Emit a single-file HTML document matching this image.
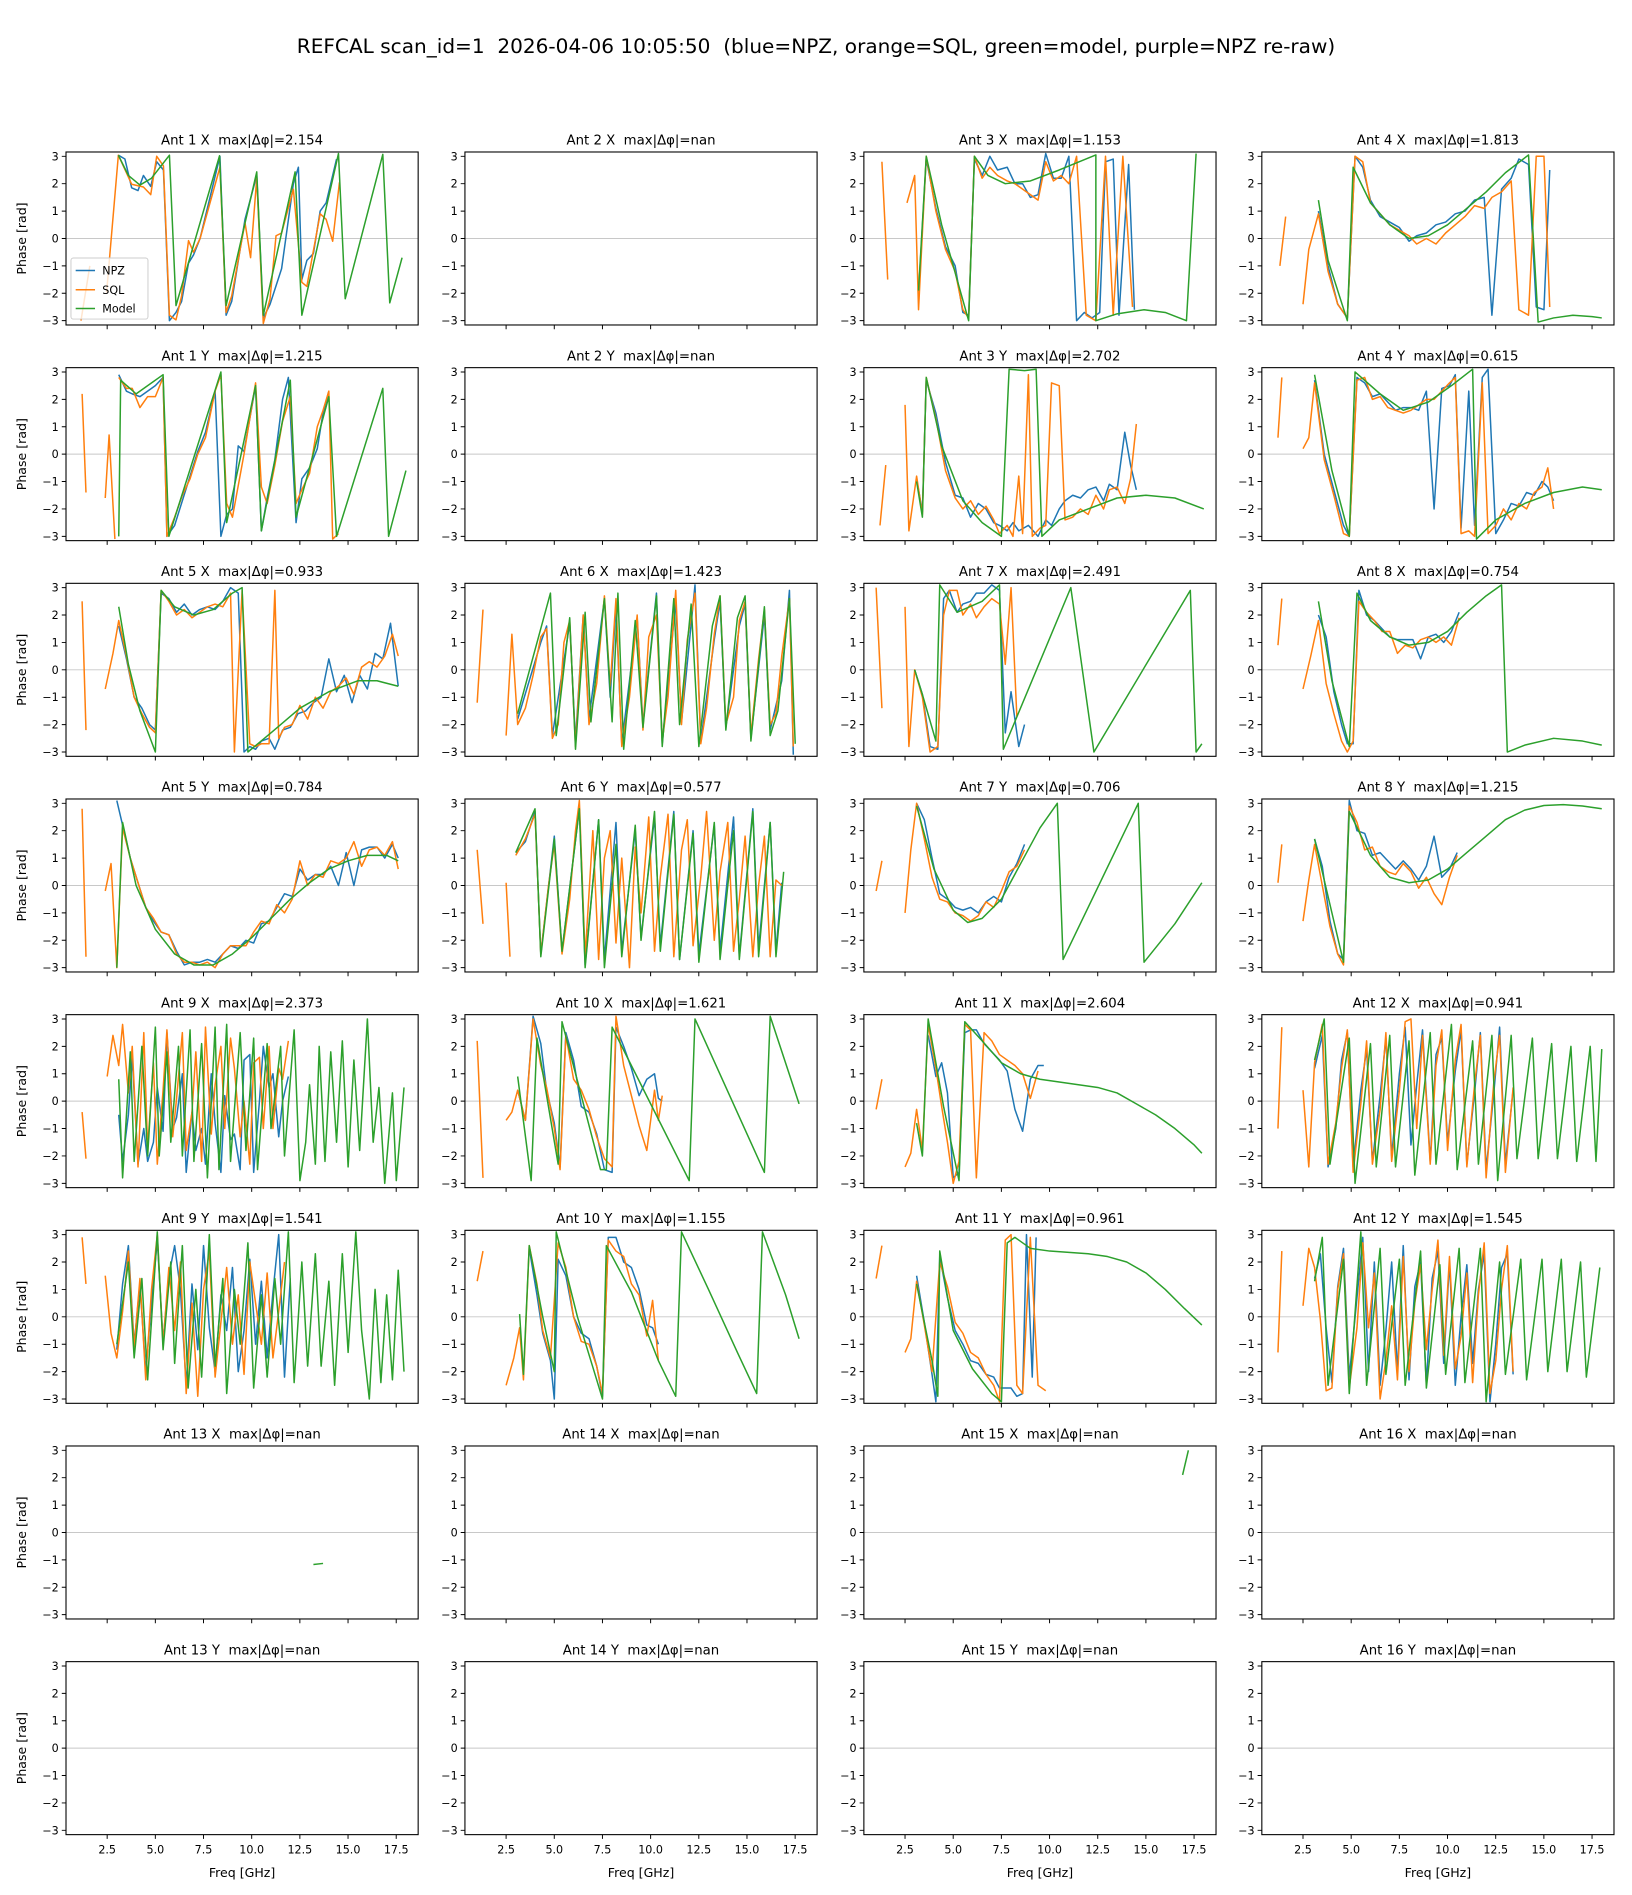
<!DOCTYPE html>
<html><head><meta charset="utf-8"><style>
html,body{margin:0;padding:0;background:#fff;}
svg{display:block;}
text{font-family:"DejaVu Sans","Liberation Sans",sans-serif;fill:#000;white-space:pre;}
.t{font-size:11px;text-anchor:middle;}
.y text{font-size:9.2px;text-anchor:end;}
.x text{font-size:9.2px;text-anchor:middle;}
.lab{font-size:10.4px;text-anchor:middle;}
.d{vector-effect:non-scaling-stroke;fill:none;stroke-width:1.5;stroke-linejoin:round;}
.b{stroke:#1f77b4;}.o{stroke:#ff7f0e;}.g{stroke:#2ca02c;}
</style></head><body>
<svg width="1632" height="1895" viewBox="0 0 1350 1567.5" xmlns="http://www.w3.org/2000/svg">
<defs>
<g id="ax">
<line x1="0" y1="71.55" x2="291.3" y2="71.55" stroke="#c8c8c8" stroke-width="0.8"/>
<path d="M-3.5 3.57H0M-3.5 26.23H0M-3.5 48.89H0M-3.5 71.55H0M-3.5 94.21H0M-3.5 116.87H0M-3.5 139.53H0M34.05 143.1V146.6M73.9 143.1V146.6M113.75 143.1V146.6M153.6 143.1V146.6M193.45 143.1V146.6M233.3 143.1V146.6M273.15 143.1V146.6" stroke="#000" stroke-width="0.8" fill="none"/>
</g>
<g id="fr"><rect x="0" y="0" width="291.3" height="143.1" fill="none" stroke="#000" stroke-width="0.9"/></g>
</defs>
<text x="675" y="44" style="font-size:16.5px;text-anchor:middle" textLength="859" lengthAdjust="spacingAndGlyphs">REFCAL scan_id=1  2026-04-06 10:05:50  (blue=NPZ, orange=SQL, green=model, purple=NPZ re-raw)</text>

<!-- ROW 0 -->
<g transform="translate(54.6,125.7)">
<use href="#ax"/>
<svg width="291.3" height="143.1" viewBox="0.364 -3.157 18.27 6.314" preserveAspectRatio="none"><g transform="scale(1,-1)">
<polyline class="d b" points="3.08,3.04 3.42,2.9 3.77,1.85 4.1,1.75 4.38,2.3 4.76,1.9 5.07,2.8 5.42,2.5 5.73,-3.0 6.07,-2.7 6.36,-2.3 6.72,-0.9 6.98,-0.6 7.32,0 8.35,3.0 8.67,-2.8 8.96,-2.3 9.65,0.7 10.26,2.3 10.6,-2.9 10.95,-2.4 11.55,-1.1 12.16,2.0 12.42,2.6 12.6,-1.5 12.86,-0.8 13.2,-0.55 13.55,1.0 13.86,1.3 14.4,2.9"/>
<polyline class="d o" points="1.14,-3.0 1.6,-1.0"/>
<polyline class="d o" points="2.47,-1.97 3.08,3.04 3.77,1.98 4.38,1.88 4.76,1.6 5.07,3.0 5.42,2.65 5.73,-2.8 6.07,-2.97 6.36,-2.1 6.72,-0.08 6.98,-0.5 7.32,0 8.35,2.6 8.67,-2.7 8.96,-2.1 9.65,0.58 9.94,-0.7 10.26,2.2 10.6,-3.1 10.95,-2.2 11.26,0.1 11.55,0.2 12.16,1.8 12.6,-1.6 12.86,-1.75 13.55,0.9 13.86,0.7 14.2,-0.1 14.55,2.05"/>
<polyline class="d g" points="3.08,3.04 3.6,2.3 4.2,1.95 4.8,2.2 5.73,3.04 6.07,-2.45 8.33,3.02 8.67,-2.45 10.26,2.43 10.6,-2.8 12.25,2.43 12.6,-2.8 14.5,3.1 14.85,-2.2 16.8,3.07 17.16,-2.35 17.8,-0.7"/>
</g></svg>
<use href="#fr"/>
<rect x="4.1" y="87.7" width="63.7" height="50.5" rx="2" fill="#fff" fill-opacity="0.8" stroke="#ccc" stroke-width="0.8"/>
<line x1="8" y1="98" x2="24" y2="98" stroke="#1f77b4" stroke-width="1.25"/>
<line x1="8" y1="114" x2="24" y2="114" stroke="#ff7f0e" stroke-width="1.25"/>
<line x1="8" y1="129.5" x2="24" y2="129.5" stroke="#2ca02c" stroke-width="1.25"/>
<text x="30" y="101.3" style="font-size:9.2px">NPZ</text>
<text x="30" y="117.3" style="font-size:9.2px">SQL</text>
<text x="30" y="132.8" style="font-size:9.2px">Model</text>
<text class="t" x="145.65" y="-6">Ant 1 X  max|Δφ|=2.154</text>
<text class="lab" transform="translate(-33,71.55) rotate(-90)">Phase [rad]</text>
<g class="y"><text x="-6" y="6.9">3</text><text x="-6" y="29.5">2</text><text x="-6" y="52.2">1</text><text x="-6" y="74.9">0</text><text x="-6" y="97.5">−1</text><text x="-6" y="120.2">−2</text><text x="-6" y="142.8">−3</text></g>
</g>

<g transform="translate(384.6,125.7)">
<use href="#ax"/><use href="#fr"/>
<text class="t" x="145.65" y="-6">Ant 2 X  max|Δφ|=nan</text>
<g class="y"><text x="-6" y="6.9">3</text><text x="-6" y="29.5">2</text><text x="-6" y="52.2">1</text><text x="-6" y="74.9">0</text><text x="-6" y="97.5">−1</text><text x="-6" y="120.2">−2</text><text x="-6" y="142.8">−3</text></g>
</g>

<g transform="translate(714.6,125.7)">
<use href="#ax"/>
<svg width="291.3" height="143.1" viewBox="0.364 -3.157 18.27 6.314" preserveAspectRatio="none"><g transform="scale(1,-1)">
<polyline class="d b" points="3.2,-2.0 3.6,2.9 4.1,1.1 4.6,-0.3 5.1,-1.0 5.5,-2.7 5.8,-2.8 6.1,2.9 6.5,2.3 6.9,3.0 7.3,2.5 7.8,2.6 8.2,2.0 8.6,2.0 9.0,1.5 9.4,1.6 9.8,3.1 10.2,2.2 10.6,2.2 11.0,3.0 11.4,-3.0 11.8,-2.7 12.2,-2.9 12.6,-2.7 12.9,2.8 13.3,2.9 13.6,-2.8 14.1,2.7 14.4,-2.6"/>
<polyline class="d o" points="1.3,2.8 1.6,-1.5"/>
<polyline class="d o" points="2.6,1.3 3.0,2.3 3.2,-2.6 3.6,3.0 4.1,1.0 4.6,-0.4 5.1,-1.2 5.5,-2.6 5.8,-2.9 6.1,3.0 6.5,2.2 6.9,2.6 7.3,2.3 7.8,2.1 8.2,2.0 8.6,1.8 9.0,1.6 9.4,1.4 9.8,2.8 10.2,2.1 10.6,2.3 11.0,2.0 11.4,3.0 11.9,-2.8 12.4,-3.0 12.9,3.0 13.3,-2.8 13.8,3.0 14.3,-2.5"/>
<polyline class="d g" points="3.2,-1.9 3.6,3.0 4.4,0.5 5.8,-3.0 6.1,3.0 6.8,2.3 7.7,2.0 9.0,2.1 10.5,2.5 12.4,3.05 12.4,-3.0 13.5,-2.75 14.9,-2.6 16.0,-2.7 17.1,-3.0 17.6,3.1"/>
</g></svg>
<use href="#fr"/>
<text class="t" x="145.65" y="-6">Ant 3 X  max|Δφ|=1.153</text>
<g class="y"><text x="-6" y="6.9">3</text><text x="-6" y="29.5">2</text><text x="-6" y="52.2">1</text><text x="-6" y="74.9">0</text><text x="-6" y="97.5">−1</text><text x="-6" y="120.2">−2</text><text x="-6" y="142.8">−3</text></g>
</g>

<g transform="translate(1043.8,125.7)">
<use href="#ax"/>
<svg width="291.3" height="143.1" viewBox="0.364 -3.157 18.27 6.314" preserveAspectRatio="none"><g transform="scale(1,-1)">
<polyline class="d b" points="3.3,1.0 3.8,-1.0 4.3,-2.4 4.8,-2.9 5.2,3.0 5.6,2.6 6.0,1.4 6.5,0.8 7.0,0.6 7.5,0.4 8.0,-0.1 8.4,0.1 8.9,0.2 9.4,0.5 9.9,0.6 10.4,0.9 10.9,1.0 11.4,1.4 11.9,1.5 12.3,-2.8 12.8,1.8 13.3,2.2 13.7,2.9 14.2,2.7 14.6,-2.5 15.0,-2.6 15.3,2.5"/>
<polyline class="d o" points="1.3,-1.0 1.6,0.8"/>
<polyline class="d o" points="2.5,-2.4 2.8,-0.4 3.3,0.9 3.8,-1.2 4.3,-2.4 4.8,-2.9 5.2,3.0 5.6,2.8 6.0,1.3 6.5,0.9 7.0,0.5 7.5,0.3 8.0,0.1 8.4,-0.2 8.9,0.0 9.4,-0.2 9.9,0.2 10.4,0.5 10.9,0.8 11.4,1.2 11.9,1.1 12.3,1.5 12.8,1.7 13.3,2.1 13.7,-2.6 14.2,-2.8 14.6,3.0 15.0,3.0 15.3,-2.5"/>
<polyline class="d g" points="3.3,1.4 3.8,-0.8 4.8,-3.0 5.1,2.6 6.0,1.3 7.0,0.5 8.0,0.0 9.0,0.1 10.0,0.5 11.0,1.1 12.0,1.7 13.0,2.4 14.2,3.05 14.7,-3.05 15.5,-2.9 16.5,-2.8 17.5,-2.85 18.0,-2.9"/>
</g></svg>
<use href="#fr"/>
<text class="t" x="145.65" y="-6">Ant 4 X  max|Δφ|=1.813</text>
<g class="y"><text x="-6" y="6.9">3</text><text x="-6" y="29.5">2</text><text x="-6" y="52.2">1</text><text x="-6" y="74.9">0</text><text x="-6" y="97.5">−1</text><text x="-6" y="120.2">−2</text><text x="-6" y="142.8">−3</text></g>
</g>

<!-- ROW 1 -->
<g transform="translate(54.6,304.1)">
<use href="#ax"/>
<svg width="291.3" height="143.1" viewBox="0.364 -3.157 18.27 6.314" preserveAspectRatio="none"><g transform="scale(1,-1)">
<polyline class="d b" points="3.1,2.9 3.5,2.3 3.8,2.2 4.2,2.1 4.6,2.3 5.0,2.5 5.4,2.8 5.6,-3.0 6.0,-2.6 6.4,-1.7 6.8,-0.8 7.2,0.1 7.6,0.8 8.1,2.3 8.4,-3.0 8.7,-2.2 9.0,-2.0 9.3,0.3 9.6,0.1 10.2,2.5 10.5,-2.8 10.8,-1.6 11.2,-0.2 11.6,2.0 11.9,2.8 12.3,-2.5 12.6,-0.9 13.0,-0.5 13.4,0.2 13.7,1.5 14.0,2.3"/>
<polyline class="d o" points="1.2,2.2 1.4,-1.4"/>
<polyline class="d o" points="2.4,-1.6 2.6,0.7 2.9,-3.1"/>
<polyline class="d o" points="3.1,2.8 3.5,2.4 3.8,2.4 4.2,1.7 4.6,2.1 5.0,2.1 5.4,2.8 5.6,-3.0 6.0,-2.3 6.4,-1.5 6.8,-0.9 7.2,0.0 7.6,0.6 8.1,2.3 8.4,2.9 8.7,-1.8 9.0,-2.3 9.6,0.0 10.2,2.6 10.5,-1.2 10.8,-1.8 11.2,-0.4 11.6,1.2 12.0,2.1 12.3,-1.8 12.6,-1.3 13.0,-0.7 13.4,1.0 13.7,1.6 14.0,2.3 14.2,-3.1 14.5,-2.9"/>
<polyline class="d g" points="3.1,-3.0 3.2,2.7 4.0,2.2 5.4,2.9 5.7,-3.0 8.4,3.0 8.7,-2.5 10.2,2.5 10.5,-2.8 12.0,2.7 12.3,-2.3 14.0,2.1 14.4,-3.0 16.8,2.4 17.1,-3.0 18.0,-0.6"/>
</g></svg>
<use href="#fr"/>
<text class="t" x="145.65" y="-6">Ant 1 Y  max|Δφ|=1.215</text>
<text class="lab" transform="translate(-33,71.55) rotate(-90)">Phase [rad]</text>
<g class="y"><text x="-6" y="6.9">3</text><text x="-6" y="29.5">2</text><text x="-6" y="52.2">1</text><text x="-6" y="74.9">0</text><text x="-6" y="97.5">−1</text><text x="-6" y="120.2">−2</text><text x="-6" y="142.8">−3</text></g>
</g>

<g transform="translate(384.6,304.1)">
<use href="#ax"/><use href="#fr"/>
<text class="t" x="145.65" y="-6">Ant 2 Y  max|Δφ|=nan</text>
<g class="y"><text x="-6" y="6.9">3</text><text x="-6" y="29.5">2</text><text x="-6" y="52.2">1</text><text x="-6" y="74.9">0</text><text x="-6" y="97.5">−1</text><text x="-6" y="120.2">−2</text><text x="-6" y="142.8">−3</text></g>
</g>

<g transform="translate(714.6,304.1)">
<use href="#ax"/>
<svg width="291.3" height="143.1" viewBox="0.364 -3.157 18.27 6.314" preserveAspectRatio="none"><g transform="scale(1,-1)">
<polyline class="d b" points="3.1,-0.9 3.4,-2.1 3.6,2.7 4.1,1.5 4.6,-0.3 5.1,-1.5 5.5,-1.6 5.9,-2.3 6.3,-1.8 6.7,-2.0 7.1,-2.5 7.4,-2.6 7.8,-2.8 8.1,-2.5 8.4,-2.8 8.9,-2.6 9.4,-3.0 9.8,-2.4 10.1,-2.6 10.5,-2.0 10.8,-1.7 11.2,-1.5 11.6,-1.6 12.0,-1.3 12.4,-1.2 12.8,-1.7 13.1,-1.1 13.5,-1.3 13.9,0.8 14.2,-0.4 14.5,-1.3"/>
<polyline class="d o" points="1.2,-2.6 1.5,-0.4"/>
<polyline class="d o" points="2.5,1.8 2.7,-2.8 3.1,-0.8 3.4,-2.2 3.6,2.8 4.1,1.3 4.6,-0.6 5.1,-1.6 5.5,-2.0 5.9,-1.7 6.3,-2.2 6.7,-1.9 7.1,-2.4 7.4,-2.9 7.8,-2.6 8.1,-3.0 8.4,-0.8 8.6,-2.9 8.9,2.9 9.1,-3.0 9.5,-2.7 9.8,-2.6 10.1,2.6 10.5,2.5 10.8,-2.4 11.2,-2.3 11.6,-2.0 12.0,-2.2 12.4,-1.5 12.8,-2.0 13.1,-1.3 13.5,-1.2 13.9,-1.8 14.2,-0.9 14.5,1.1"/>
<polyline class="d g" points="3.1,-1.0 3.4,-2.3 3.6,2.8 4.4,0.3 5.5,-1.7 6.5,-2.5 7.5,-3.0 7.9,3.1 8.7,3.05 9.3,3.1 9.6,-3.0 10.5,-2.4 12.0,-2.0 13.5,-1.6 15.0,-1.5 16.5,-1.6 18.0,-2.0"/>
</g></svg>
<use href="#fr"/>
<text class="t" x="145.65" y="-6">Ant 3 Y  max|Δφ|=2.702</text>
<g class="y"><text x="-6" y="6.9">3</text><text x="-6" y="29.5">2</text><text x="-6" y="52.2">1</text><text x="-6" y="74.9">0</text><text x="-6" y="97.5">−1</text><text x="-6" y="120.2">−2</text><text x="-6" y="142.8">−3</text></g>
</g>

<g transform="translate(1043.8,304.1)">
<use href="#ax"/>
<svg width="291.3" height="143.1" viewBox="0.364 -3.157 18.27 6.314" preserveAspectRatio="none"><g transform="scale(1,-1)">
<polyline class="d b" points="3.1,2.7 3.6,0.0 4.1,-1.3 4.6,-2.6 4.9,-3.0 5.3,2.8 5.7,2.6 6.1,2.1 6.5,2.2 6.9,1.9 7.3,1.6 7.7,1.7 8.1,1.7 8.5,1.6 8.9,2.3 9.3,-2.0 9.7,2.4 10.1,2.5 10.4,2.9 10.7,-2.7 11.1,2.3 11.4,-2.6 11.8,2.8 12.1,3.1 12.5,-2.9 12.9,-2.4 13.3,-1.8 13.7,-1.9 14.1,-1.4 14.5,-1.5 14.9,-1.0 15.2,-1.2 15.5,-1.7"/>
<polyline class="d o" points="1.2,0.6 1.4,2.8"/>
<polyline class="d o" points="2.5,0.2 2.8,0.6 3.1,2.6 3.6,-0.2 4.1,-1.5 4.6,-2.9 4.9,-3.0 5.3,2.7 5.7,2.8 6.1,2.0 6.5,2.1 6.9,1.7 7.3,1.6 7.7,1.5 8.1,1.6 8.5,1.8 8.9,2.0 9.3,2.0 9.7,2.3 10.1,2.6 10.4,2.8 10.7,-2.9 11.1,-2.8 11.4,-3.0 11.8,2.6 12.1,-2.9 12.5,-2.6 12.9,-2.0 13.3,-2.4 13.7,-1.8 14.1,-2.0 14.5,-1.4 14.9,-1.2 15.2,-0.5 15.5,-2.0"/>
<polyline class="d g" points="3.1,2.9 4.0,-0.6 4.9,-3.0 5.2,3.0 6.5,2.2 7.7,1.6 9.0,1.9 10.2,2.5 11.3,3.1 11.5,-3.1 12.5,-2.4 14.0,-1.8 15.5,-1.4 17.0,-1.2 18.0,-1.3"/>
</g></svg>
<use href="#fr"/>
<text class="t" x="145.65" y="-6">Ant 4 Y  max|Δφ|=0.615</text>
<g class="y"><text x="-6" y="6.9">3</text><text x="-6" y="29.5">2</text><text x="-6" y="52.2">1</text><text x="-6" y="74.9">0</text><text x="-6" y="97.5">−1</text><text x="-6" y="120.2">−2</text><text x="-6" y="142.8">−3</text></g>
</g>

<!-- ROW 2 -->
<g transform="translate(54.6,482.5)">
<use href="#ax"/>
<svg width="291.3" height="143.1" viewBox="0.364 -3.157 18.27 6.314" preserveAspectRatio="none"><g transform="scale(1,-1)">
<polyline class="d b" points="3.1,1.6 3.5,0.4 3.9,-1.0 4.3,-1.4 4.7,-2.0 5.0,-2.2 5.3,2.8 5.7,2.6 6.1,2.1 6.5,2.4 6.9,2.0 7.3,2.2 7.7,2.3 8.1,2.2 8.5,2.5 8.9,3.0 9.3,2.8 9.6,-3.0 9.9,-2.8 10.2,-2.9 10.5,-2.6 10.9,-2.5 11.2,-2.9 11.6,-2.2 12.0,-2.1 12.4,-1.6 12.8,-1.5 13.2,-1.2 13.6,-1.0 14.0,0.4 14.4,-0.8 14.8,-0.2 15.2,-1.2 15.6,-0.2 16.0,-0.7 16.4,0.6 16.8,0.4 17.2,1.7 17.6,-0.6"/>
<polyline class="d o" points="1.2,2.5 1.4,-2.2"/>
<polyline class="d o" points="2.4,-0.7 2.8,0.6 3.1,1.8 3.5,0.5 3.9,-1.0 4.3,-1.6 4.7,-2.1 5.0,-2.3 5.3,2.9 5.7,2.5 6.1,2.0 6.5,2.2 6.9,1.9 7.3,2.1 7.7,2.3 8.1,2.4 8.5,2.3 8.9,2.8 9.1,-3.0 9.5,2.9 9.9,-2.7 10.2,-2.8 10.5,-2.7 10.9,-2.7 11.2,2.9 11.4,-2.5 11.7,-2.1 12.1,-2.0 12.5,-1.3 12.9,-1.8 13.3,-1.0 13.7,-1.4 14.1,-0.8 14.5,-0.6 14.9,-0.3 15.3,-0.9 15.7,0.1 16.1,0.3 16.5,0.1 16.9,0.5 17.3,1.3 17.6,0.5"/>
<polyline class="d g" points="3.1,2.3 3.6,0.2 4.2,-1.5 5.0,-3.0 5.3,2.9 6.0,2.3 7.0,2.0 8.0,2.2 9.0,2.8 9.5,3.0 9.8,-3.0 11.0,-2.3 12.5,-1.4 14.0,-0.8 15.5,-0.4 16.5,-0.4 17.6,-0.6"/>
</g></svg>
<use href="#fr"/>
<text class="t" x="145.65" y="-6">Ant 5 X  max|Δφ|=0.933</text>
<text class="lab" transform="translate(-33,71.55) rotate(-90)">Phase [rad]</text>
<g class="y"><text x="-6" y="6.9">3</text><text x="-6" y="29.5">2</text><text x="-6" y="52.2">1</text><text x="-6" y="74.9">0</text><text x="-6" y="97.5">−1</text><text x="-6" y="120.2">−2</text><text x="-6" y="142.8">−3</text></g>
</g>

<g transform="translate(384.6,482.5)">
<use href="#ax"/>
<svg width="291.3" height="143.1" viewBox="0.364 -3.157 18.27 6.314" preserveAspectRatio="none"><g transform="scale(1,-1)">
<polyline class="d b" points="3.1,-1.8 4.3,1.0 4.6,1.6 4.9,-2.4 5.8,1.7 6.1,-2.6 6.5,2.0 6.8,-1.8 7.6,2.6 7.9,-1.0 8.2,2.3 8.5,-2.7 9.3,1.9 9.6,-2.0 10.3,2.8 10.6,-2.7 11.3,2.5 11.6,-1.9 12.3,3.1 12.6,-2.6 13.3,1.1 13.6,2.5 13.9,-2.1 14.6,1.6 14.9,2.4 15.2,-2.5 15.9,2.0 16.2,-2.2 16.8,-0.4 17.2,2.9 17.4,-3.1"/>
<polyline class="d o" points="1.0,-1.2 1.3,2.2"/>
<polyline class="d o" points="2.5,-2.4 2.8,1.3 3.1,-2.0 3.5,-1.4 3.9,-0.2 4.3,1.2 4.6,1.5 4.9,-2.5 5.2,-2.0 5.5,1.0 5.8,1.8 6.1,-2.8 6.5,2.0 6.8,-2.0 7.2,-0.5 7.6,2.7 7.9,-0.6 8.2,2.6 8.5,-2.8 8.9,-1.0 9.3,2.0 9.6,-2.2 9.9,1.2 10.3,2.0 10.6,-2.6 10.9,-1.0 11.3,2.9 11.6,-2.0 11.9,1.1 12.3,2.8 12.6,-2.7 12.9,-1.4 13.3,1.3 13.6,2.7 13.9,-2.0 14.3,-1.0 14.6,1.8 14.9,2.5 15.2,-2.4 15.6,0.4 15.9,2.2 16.2,-2.0 16.5,-1.6 16.8,0.5 17.2,2.6 17.4,-2.8"/>
<polyline class="d g" points="3.1,-1.6 4.8,2.8 5.1,-2.4 5.8,1.9 6.1,-2.9 6.6,2.1 6.9,-1.9 7.6,2.6 8.0,-1.9 8.3,2.8 8.6,-2.9 9.2,1.8 9.6,-2.1 10.3,2.7 10.6,-2.8 11.2,2.6 11.5,-2.0 12.1,2.4 12.5,-2.8 13.2,1.6 13.6,2.7 13.9,-2.2 14.5,1.9 14.9,2.7 15.2,-2.6 15.9,2.3 16.2,-2.4 16.6,-1.5 17.2,2.6 17.5,-2.7"/>
</g></svg>
<use href="#fr"/>
<text class="t" x="145.65" y="-6">Ant 6 X  max|Δφ|=1.423</text>
<g class="y"><text x="-6" y="6.9">3</text><text x="-6" y="29.5">2</text><text x="-6" y="52.2">1</text><text x="-6" y="74.9">0</text><text x="-6" y="97.5">−1</text><text x="-6" y="120.2">−2</text><text x="-6" y="142.8">−3</text></g>
</g>

<g transform="translate(714.6,482.5)">
<use href="#ax"/>
<svg width="291.3" height="143.1" viewBox="0.364 -3.157 18.27 6.314" preserveAspectRatio="none"><g transform="scale(1,-1)">
<polyline class="d b" points="3.0,0.0 3.4,-0.9 3.8,-2.8 4.2,-2.9 4.5,2.6 4.8,2.9 5.2,2.1 5.5,2.4 5.9,2.5 6.2,2.8 6.6,2.8 7.0,3.1 7.4,2.9 7.7,-2.3 8.0,-0.8 8.4,-2.8 8.7,-2.0"/>
<polyline class="d o" points="1.0,3.0 1.3,-1.4"/>
<polyline class="d o" points="2.5,2.3 2.7,-2.8 3.0,0.0 3.4,-1.0 3.8,-3.0 4.2,-2.8 4.5,2.0 4.8,2.9 5.2,2.9 5.5,2.0 5.9,2.4 6.2,1.9 6.6,2.3 7.0,2.6 7.4,2.4 7.7,0.2 8.0,3.0 8.3,-1.7"/>
<polyline class="d g" points="3.0,0.0 3.4,-0.9 4.1,-2.6 4.3,3.1 5.2,2.1 6.5,2.5 7.4,3.1 7.6,-2.9 11.1,3.0 12.3,-3.0 17.3,2.9 17.6,-3.0 17.9,-2.7"/>
</g></svg>
<use href="#fr"/>
<text class="t" x="145.65" y="-6">Ant 7 X  max|Δφ|=2.491</text>
<g class="y"><text x="-6" y="6.9">3</text><text x="-6" y="29.5">2</text><text x="-6" y="52.2">1</text><text x="-6" y="74.9">0</text><text x="-6" y="97.5">−1</text><text x="-6" y="120.2">−2</text><text x="-6" y="142.8">−3</text></g>
</g>

<g transform="translate(1043.8,482.5)">
<use href="#ax"/>
<svg width="291.3" height="143.1" viewBox="0.364 -3.157 18.27 6.314" preserveAspectRatio="none"><g transform="scale(1,-1)">
<polyline class="d b" points="3.3,2.0 3.7,1.2 4.1,-0.8 4.5,-2.0 4.8,-2.7 5.1,-2.7 5.4,2.9 5.8,2.0 6.2,1.8 6.6,1.5 7.0,1.2 7.4,1.1 7.8,1.1 8.2,1.1 8.6,0.4 9.0,1.2 9.4,1.3 9.8,1.0 10.2,1.4 10.6,2.1"/>
<polyline class="d o" points="1.2,0.9 1.4,2.6"/>
<polyline class="d o" points="2.5,-0.7 2.9,0.5 3.3,1.8 3.7,-0.5 4.1,-1.6 4.5,-2.6 4.8,-3.0 5.1,-2.6 5.4,2.5 5.8,2.1 6.2,1.8 6.6,1.4 7.0,1.4 7.4,0.6 7.8,0.9 8.2,0.8 8.6,1.1 9.0,1.2 9.4,1.0 9.8,1.2 10.2,0.9 10.6,1.9"/>
<polyline class="d g" points="3.3,2.5 4.0,-0.4 4.9,-2.8 5.3,2.8 6.0,1.8 7.0,1.2 8.0,0.9 9.0,1.0 10.0,1.4 11.0,2.1 12.0,2.7 12.8,3.1 13.1,-3.0 14.0,-2.75 15.5,-2.5 17.0,-2.6 18.0,-2.75"/>
</g></svg>
<use href="#fr"/>
<text class="t" x="145.65" y="-6">Ant 8 X  max|Δφ|=0.754</text>
<g class="y"><text x="-6" y="6.9">3</text><text x="-6" y="29.5">2</text><text x="-6" y="52.2">1</text><text x="-6" y="74.9">0</text><text x="-6" y="97.5">−1</text><text x="-6" y="120.2">−2</text><text x="-6" y="142.8">−3</text></g>
</g>

<!-- ROW 3 -->
<g transform="translate(54.6,660.9)">
<use href="#ax"/>
<svg width="291.3" height="143.1" viewBox="0.364 -3.157 18.27 6.314" preserveAspectRatio="none"><g transform="scale(1,-1)">
<polyline class="d b" points="3.0,3.1 3.3,2.2 3.7,1.0 4.1,0.1 4.5,-0.8 4.9,-1.3 5.3,-1.7 5.7,-1.8 6.1,-2.4 6.5,-2.9 6.9,-2.8 7.3,-2.8 7.7,-2.7 8.1,-2.8 8.5,-2.5 8.9,-2.2 9.3,-2.3 9.7,-2.0 10.1,-2.1 10.5,-1.4 10.9,-1.3 11.3,-0.8 11.7,-0.3 12.1,-0.4 12.5,0.6 12.9,0.2 13.3,0.4 13.7,0.4 14.1,0.7 14.5,0.0 14.9,1.2 15.3,0.0 15.7,1.3 16.1,1.4 16.5,1.4 16.9,1.0 17.3,1.5 17.6,1.0"/>
<polyline class="d o" points="1.2,2.8 1.4,-2.6"/>
<polyline class="d o" points="2.4,-0.2 2.7,0.8 3.0,-3.0 3.3,2.1 3.7,1.0 4.1,0.1 4.5,-0.8 4.9,-1.2 5.3,-1.7 5.7,-1.8 6.1,-2.5 6.5,-2.8 6.9,-2.8 7.3,-2.9 7.7,-2.8 8.1,-3.0 8.5,-2.5 8.9,-2.2 9.3,-2.2 9.7,-2.2 10.1,-1.7 10.5,-1.3 10.9,-1.4 11.3,-0.7 11.7,-1.0 12.1,-0.5 12.5,0.9 12.9,0.0 13.3,0.4 13.7,0.3 14.1,0.9 14.5,0.8 14.9,1.0 15.3,1.6 15.7,0.7 16.1,1.3 16.5,1.4 16.9,1.1 17.3,1.6 17.6,0.6"/>
<polyline class="d g" points="3.0,-3.0 3.3,2.3 4.0,0.0 5.0,-1.6 6.0,-2.5 7.0,-2.9 8.0,-2.9 9.0,-2.5 10.0,-1.9 11.0,-1.2 12.0,-0.5 13.0,0.1 14.0,0.6 15.0,0.9 16.0,1.1 17.0,1.1 17.6,0.9"/>
</g></svg>
<use href="#fr"/>
<text class="t" x="145.65" y="-6">Ant 5 Y  max|Δφ|=0.784</text>
<text class="lab" transform="translate(-33,71.55) rotate(-90)">Phase [rad]</text>
<g class="y"><text x="-6" y="6.9">3</text><text x="-6" y="29.5">2</text><text x="-6" y="52.2">1</text><text x="-6" y="74.9">0</text><text x="-6" y="97.5">−1</text><text x="-6" y="120.2">−2</text><text x="-6" y="142.8">−3</text></g>
</g>

<g transform="translate(384.6,660.9)">
<use href="#ax"/>
<svg width="291.3" height="143.1" viewBox="0.364 -3.157 18.27 6.314" preserveAspectRatio="none"><g transform="scale(1,-1)">
<polyline class="d b" points="3.0,1.2 3.5,1.6 4.0,2.7 4.3,-2.5 5.0,1.8 5.4,-2.4 6.3,2.8 6.6,-2.9 7.3,2.4 7.6,-2.7 8.2,2.3 8.5,-2.4 9.2,2.0 9.5,-1.9 10.2,2.5 10.5,-2.2 11.2,2.7 11.5,-2.7 12.2,2.0 12.5,-2.5 13.3,2.2 13.6,-2.4 14.3,2.5 14.6,-2.6 15.3,2.8 15.6,-2.3 16.2,2.3 16.5,-2.4 16.8,0.1"/>
<polyline class="d o" points="1.0,1.3 1.3,-1.4"/>
<polyline class="d o" points="2.5,0.1 2.7,-2.6"/>
<polyline class="d o" points="3.0,1.1 3.5,1.7 4.0,2.6 4.3,-2.5 4.7,0.0 5.0,1.5 5.4,-2.5 5.8,-0.5 6.1,2.0 6.3,3.1 6.6,-2.6 7.0,2.0 7.3,-2.7 7.6,1.0 7.9,2.0 8.2,-2.1 8.5,1.0 8.9,-3.0 9.2,1.4 9.5,-1.0 9.9,2.5 10.2,-2.4 10.5,0.3 10.9,2.6 11.2,-2.6 11.6,1.3 11.9,2.4 12.2,-2.2 12.6,0.3 12.9,2.7 13.3,-2.0 13.6,0.5 14.0,2.3 14.3,-2.4 14.6,-0.5 14.9,1.8 15.3,-2.6 15.6,0.0 15.9,1.8 16.2,-2.6 16.5,0.2 16.8,0.0"/>
<polyline class="d g" points="3.0,1.2 4.0,2.8 4.3,-2.6 5.0,1.7 5.4,-2.4 6.3,2.8 6.6,-3.0 7.3,2.4 7.6,-3.0 8.2,1.5 8.5,-2.6 9.2,2.2 9.5,-2.0 10.2,2.7 10.5,-2.4 11.2,2.6 11.5,-2.7 12.2,1.9 12.5,-2.8 13.3,2.3 13.6,-2.7 14.3,2.0 14.6,-2.7 15.3,2.7 15.6,-2.6 16.2,2.3 16.5,-2.6 16.9,0.5"/>
</g></svg>
<use href="#fr"/>
<text class="t" x="145.65" y="-6">Ant 6 Y  max|Δφ|=0.577</text>
<g class="y"><text x="-6" y="6.9">3</text><text x="-6" y="29.5">2</text><text x="-6" y="52.2">1</text><text x="-6" y="74.9">0</text><text x="-6" y="97.5">−1</text><text x="-6" y="120.2">−2</text><text x="-6" y="142.8">−3</text></g>
</g>

<g transform="translate(714.6,660.9)">
<use href="#ax"/>
<svg width="291.3" height="143.1" viewBox="0.364 -3.157 18.27 6.314" preserveAspectRatio="none"><g transform="scale(1,-1)">
<polyline class="d b" points="3.1,3.0 3.5,2.4 3.9,1.0 4.3,-0.3 4.7,-0.5 5.1,-0.8 5.5,-0.9 5.9,-0.8 6.3,-1.0 6.7,-0.6 7.1,-0.4 7.5,-0.6 7.9,0.3 8.3,0.8 8.7,1.5"/>
<polyline class="d o" points="1.0,-0.2 1.3,0.9"/>
<polyline class="d o" points="2.5,-1.0 2.8,1.3 3.1,3.0 3.5,1.7 3.9,0.3 4.3,-0.5 4.7,-0.6 5.1,-1.0 5.5,-1.1 5.9,-1.3 6.3,-1.1 6.7,-0.6 7.1,-0.8 7.5,-0.2 7.9,0.5 8.3,0.7 8.7,1.3"/>
<polyline class="d g" points="3.1,2.9 4.0,0.6 5.0,-0.9 5.75,-1.35 6.5,-1.2 7.5,-0.5 8.5,0.8 9.5,2.1 10.4,3.0 10.7,-2.7 14.6,3.0 14.9,-2.8 16.5,-1.4 17.9,0.1"/>
</g></svg>
<use href="#fr"/>
<text class="t" x="145.65" y="-6">Ant 7 Y  max|Δφ|=0.706</text>
<g class="y"><text x="-6" y="6.9">3</text><text x="-6" y="29.5">2</text><text x="-6" y="52.2">1</text><text x="-6" y="74.9">0</text><text x="-6" y="97.5">−1</text><text x="-6" y="120.2">−2</text><text x="-6" y="142.8">−3</text></g>
</g>

<g transform="translate(1043.8,660.9)">
<use href="#ax"/>
<svg width="291.3" height="143.1" viewBox="0.364 -3.157 18.27 6.314" preserveAspectRatio="none"><g transform="scale(1,-1)">
<polyline class="d b" points="3.1,1.7 3.5,0.7 3.9,-1.3 4.3,-2.5 4.6,-2.7 4.9,3.1 5.3,2.0 5.7,1.9 6.1,1.1 6.5,1.2 6.9,0.9 7.3,0.6 7.7,0.9 8.1,0.6 8.5,0.2 8.9,0.7 9.3,1.8 9.7,0.3 10.1,0.6 10.5,1.2"/>
<polyline class="d o" points="1.2,0.1 1.4,1.5"/>
<polyline class="d o" points="2.5,-1.3 2.8,0.2 3.1,1.5 3.5,0.0 3.9,-1.5 4.3,-2.5 4.6,-2.9 4.9,2.9 5.3,2.3 5.7,1.3 6.1,1.4 6.5,0.7 6.9,0.5 7.3,0.4 7.7,0.8 8.1,0.5 8.5,-0.1 8.9,0.3 9.3,-0.3 9.7,-0.7 10.1,0.3 10.5,1.1"/>
<polyline class="d g" points="3.1,1.7 4.0,-1.0 4.6,-2.8 4.9,2.7 6.0,1.1 7.0,0.3 8.0,0.1 9.0,0.2 10.0,0.6 11.0,1.2 12.0,1.8 13.0,2.4 14.0,2.75 15.0,2.92 16.0,2.95 17.0,2.9 18.0,2.8"/>
</g></svg>
<use href="#fr"/>
<text class="t" x="145.65" y="-6">Ant 8 Y  max|Δφ|=1.215</text>
<g class="y"><text x="-6" y="6.9">3</text><text x="-6" y="29.5">2</text><text x="-6" y="52.2">1</text><text x="-6" y="74.9">0</text><text x="-6" y="97.5">−1</text><text x="-6" y="120.2">−2</text><text x="-6" y="142.8">−3</text></g>
</g>

<!-- ROW 4 -->
<g transform="translate(54.6,839.3)">
<use href="#ax"/>
<svg width="291.3" height="143.1" viewBox="0.364 -3.157 18.27 6.314" preserveAspectRatio="none"><g transform="scale(1,-1)">
<polyline class="d b" points="3.1,-0.5 3.3,-2.2 3.6,-0.5 3.8,1.6 4.1,-2.3 4.4,-1.0 4.6,-2.2 4.9,-1.5 5.1,0.5 5.4,-1.1 5.6,2.5 5.9,-1.0 6.1,-0.6 6.4,1.0 6.6,-2.6 6.9,-0.4 7.1,-1.8 7.4,-1.0 7.6,-2.3 7.9,1.0 8.1,-0.8 8.4,-2.6 8.6,0.2 8.9,-1.4 9.1,-1.2 9.4,-2.5 9.6,1.5 9.9,1.7 10.1,-2.6 10.4,0.0 10.6,2.0 10.9,0.5 11.1,1.0 11.4,-1.3 11.6,0.0 11.9,0.9"/>
<polyline class="d o" points="1.2,-0.4 1.4,-2.1"/>
<polyline class="d o" points="2.5,0.9 2.8,2.4 3.1,1.3 3.3,2.8 3.6,0.3 3.8,2.0 4.1,-2.4 4.4,2.5 4.6,-1.7 4.9,1.4 5.1,-2.3 5.4,0.4 5.6,2.6 5.9,-1.3 6.1,0.1 6.4,2.5 6.6,-1.8 6.9,-0.4 7.1,1.8 7.4,-2.2 7.6,2.7 7.9,-1.2 8.1,0.6 8.4,2.0 8.6,-1.0 8.9,2.3 9.1,1.2 9.4,-1.3 9.6,0.0 9.9,-2.3 10.1,1.4 10.4,1.6 10.6,-1.0 10.9,2.0 11.1,-1.0 11.4,1.2 11.6,0.8 11.9,2.2"/>
<polyline class="d g" points="3.1,0.8 3.3,-2.8 3.7,1.8 3.9,-2.2 4.3,2.0 4.6,-2.0 5.0,2.7 5.2,-2.0 5.6,1.8 5.8,-1.5 6.2,2.0 6.4,-2.0 6.8,2.6 7.0,-2.2 7.4,2.1 7.7,-2.8 8.1,2.7 8.3,-2.5 8.7,2.8 8.9,-2.2 9.4,2.5 9.7,-1.8 10.1,2.3 10.3,-2.5 10.8,2.1 11.0,-1.0 11.5,2.0 11.7,-2.0 12.2,2.6 12.5,-2.9 12.8,-1.5 13.0,0.6 13.3,-2.3 13.5,2.0 13.8,-2.2 14.1,1.8 14.4,-1.5 14.7,2.2 15.0,-2.4 15.3,1.5 15.6,-1.8 16.0,3.0 16.3,-1.5 16.6,0.5 16.9,-3.0 17.3,0.3 17.5,-2.9 17.9,0.5"/>
</g></svg>
<use href="#fr"/>
<text class="t" x="145.65" y="-6">Ant 9 X  max|Δφ|=2.373</text>
<text class="lab" transform="translate(-33,71.55) rotate(-90)">Phase [rad]</text>
<g class="y"><text x="-6" y="6.9">3</text><text x="-6" y="29.5">2</text><text x="-6" y="52.2">1</text><text x="-6" y="74.9">0</text><text x="-6" y="97.5">−1</text><text x="-6" y="120.2">−2</text><text x="-6" y="142.8">−3</text></g>
</g>

<g transform="translate(384.6,839.3)">
<use href="#ax"/>
<svg width="291.3" height="143.1" viewBox="0.364 -3.157 18.27 6.314" preserveAspectRatio="none"><g transform="scale(1,-1)">
<polyline class="d b" points="3.1,0.4 3.5,-0.7 3.9,3.1 4.3,2.1 4.6,0.4 5.0,-0.8 5.3,-2.4 5.6,2.5 6.0,1.5 6.4,-0.2 6.8,-0.4 7.2,-1.2 7.6,-2.5 8.0,-2.6 8.2,2.7 8.6,2.0 9.0,1.2 9.4,0.2 9.8,0.8 10.2,1.0 10.4,0.1 10.6,0.0"/>
<polyline class="d o" points="1.0,2.2 1.3,-2.8"/>
<polyline class="d o" points="2.5,-0.7 2.8,-0.4 3.1,0.4 3.5,-0.7 3.9,3.0 4.3,1.3 4.6,0.5 5.0,-1.0 5.3,-2.5 5.6,2.4 6.0,0.8 6.4,0.4 6.8,-0.3 7.2,-1.3 7.6,-2.1 8.0,-2.4 8.2,3.1 8.6,1.3 9.0,0.2 9.4,-0.9 9.8,-1.8 10.2,0.4 10.4,-0.7 10.6,0.2"/>
<polyline class="d g" points="3.1,0.9 3.8,-2.9 4.1,2.3 5.2,-2.3 5.4,2.9 7.4,-2.5 7.7,-2.5 8.0,2.7 12.0,-2.9 12.3,3.0 15.9,-2.6 16.2,3.1 17.7,-0.1"/>
</g></svg>
<use href="#fr"/>
<text class="t" x="145.65" y="-6">Ant 10 X  max|Δφ|=1.621</text>
<g class="y"><text x="-6" y="6.9">3</text><text x="-6" y="29.5">2</text><text x="-6" y="52.2">1</text><text x="-6" y="74.9">0</text><text x="-6" y="97.5">−1</text><text x="-6" y="120.2">−2</text><text x="-6" y="142.8">−3</text></g>
</g>

<g transform="translate(714.6,839.3)">
<use href="#ax"/>
<svg width="291.3" height="143.1" viewBox="0.364 -3.157 18.27 6.314" preserveAspectRatio="none"><g transform="scale(1,-1)">
<polyline class="d b" points="3.7,2.4 4.1,0.9 4.4,1.4 4.7,0.3 5.0,-2.8 5.3,-2.6 5.6,2.5 5.9,2.6 6.2,2.6 6.6,2.1 7.0,1.8 7.4,1.5 7.8,1.1 8.2,-0.3 8.6,-1.1 9.0,0.8 9.4,1.3 9.7,1.3"/>
<polyline class="d o" points="1.0,-0.3 1.3,0.8"/>
<polyline class="d o" points="2.5,-2.4 2.8,-1.9 3.1,-0.3 3.4,-1.8 3.7,2.8 4.1,1.2 4.4,-0.2 4.7,-1.5 5.0,-3.0 5.3,-2.2 5.6,2.8 5.9,2.6 6.2,-2.8 6.6,2.5 7.0,2.2 7.4,1.7 7.8,1.5 8.2,1.3 8.6,1.0 9.0,0.1 9.4,1.1"/>
<polyline class="d g" points="3.1,-0.8 3.4,-2.0 3.7,3.0 4.5,-0.2 5.3,-2.9 5.6,2.9 6.5,2.2 7.5,1.4 8.5,1.0 9.5,0.8 10.5,0.7 11.5,0.6 12.5,0.5 13.5,0.3 14.5,-0.1 15.5,-0.5 16.5,-1.0 17.5,-1.6 17.9,-1.9"/>
</g></svg>
<use href="#fr"/>
<text class="t" x="145.65" y="-6">Ant 11 X  max|Δφ|=2.604</text>
<g class="y"><text x="-6" y="6.9">3</text><text x="-6" y="29.5">2</text><text x="-6" y="52.2">1</text><text x="-6" y="74.9">0</text><text x="-6" y="97.5">−1</text><text x="-6" y="120.2">−2</text><text x="-6" y="142.8">−3</text></g>
</g>

<g transform="translate(1043.8,839.3)">
<use href="#ax"/>
<svg width="291.3" height="143.1" viewBox="0.364 -3.157 18.27 6.314" preserveAspectRatio="none"><g transform="scale(1,-1)">
<polyline class="d b" points="3.1,1.2 3.5,2.4 3.8,-2.4 4.2,-1.0 4.5,1.5 4.8,2.5 5.1,-2.4 5.5,0.4 5.8,1.9 6.1,-2.2 6.5,0.2 6.8,2.3 7.1,-2.0 7.5,1.0 7.8,2.7 8.1,-1.6 8.4,0.6 8.7,2.6 9.1,-2.2 9.4,1.7 9.7,2.3 10.0,-1.5 10.4,1.1 10.7,2.6 11.0,-2.3 11.4,0.3 11.7,2.5 12.0,-2.5 12.4,0.3 12.7,2.7 13.0,-2.3 13.4,0.4"/>
<polyline class="d o" points="1.2,-1.0 1.4,2.7"/>
<polyline class="d o" points="2.5,0.4 2.8,-2.4 3.1,1.4 3.5,2.8 3.8,-2.3 4.2,-0.8 4.5,1.2 4.8,2.6 5.1,-2.6 5.5,-0.1 5.8,2.2 6.1,-2.3 6.5,-0.3 6.8,2.5 7.1,-2.2 7.5,0.4 7.8,2.9 8.1,3.0 8.4,-1.0 8.7,2.4 9.1,-2.3 9.4,1.3 9.7,2.6 10.0,-1.8 10.4,1.5 10.7,2.8 11.0,-2.4 11.4,0.6 11.7,2.4 12.0,-2.8 12.4,0.7 12.7,2.4 13.0,-2.6 13.4,0.5"/>
<polyline class="d g" points="3.1,1.5 3.6,3.0 3.9,-2.3 4.9,2.3 5.2,-3.0 6.0,2.1 6.3,-2.4 7.0,2.4 7.3,-2.4 8.0,2.2 8.3,-2.7 9.1,2.5 9.4,-2.3 10.2,2.8 10.5,-2.5 11.3,2.2 11.6,-2.3 12.3,2.4 12.6,-2.9 13.3,2.4 13.6,-2.1 14.4,2.3 14.7,-2.1 15.4,2.1 15.7,-2.1 16.4,2.0 16.7,-2.2 17.4,2.0 17.7,-2.2 18.0,1.9"/>
</g></svg>
<use href="#fr"/>
<text class="t" x="145.65" y="-6">Ant 12 X  max|Δφ|=0.941</text>
<g class="y"><text x="-6" y="6.9">3</text><text x="-6" y="29.5">2</text><text x="-6" y="52.2">1</text><text x="-6" y="74.9">0</text><text x="-6" y="97.5">−1</text><text x="-6" y="120.2">−2</text><text x="-6" y="142.8">−3</text></g>
</g>

<!-- ROW 5 -->
<g transform="translate(54.6,1017.7)">
<use href="#ax"/>
<svg width="291.3" height="143.1" viewBox="0.364 -3.157 18.27 6.314" preserveAspectRatio="none"><g transform="scale(1,-1)">
<polyline class="d b" points="3.0,-1.2 3.3,1.2 3.6,2.6 3.9,-1.0 4.2,1.2 4.5,-2.0 4.8,0.5 5.1,2.8 5.4,-0.9 5.7,1.5 6.0,2.6 6.3,1.0 6.6,-2.5 6.9,1.2 7.2,-1.2 7.5,2.6 7.8,-0.4 8.1,-2.0 8.4,0.8 8.7,-0.5 9.0,1.8 9.3,-2.0 9.6,-0.5 9.9,2.1 10.2,-1.0 10.5,1.3 10.8,-1.5 11.1,0.9 11.4,3.0 11.7,-2.2 12.0,1.4"/>
<polyline class="d o" points="1.2,2.9 1.4,1.2"/>
<polyline class="d o" points="2.4,1.5 2.7,-0.6 3.0,-1.5 3.3,0.2 3.6,2.4 3.9,-1.1 4.2,1.4 4.5,-2.3 4.8,1.0 5.1,3.0 5.4,-1.0 5.7,1.8 6.0,-0.5 6.3,2.0 6.6,-2.8 6.9,0.5 7.2,-2.9 7.5,1.0 7.8,2.4 8.1,-2.2 8.4,-0.2 8.7,1.8 9.0,-1.0 9.3,0.8 9.6,-2.1 9.9,2.0 10.2,0.5 10.5,-1.0 10.8,1.6 11.1,-1.5 11.4,0.2 11.7,2.0"/>
<polyline class="d g" points="3.0,-1.0 3.6,2.0 3.9,-1.5 4.3,1.4 4.6,-2.3 5.1,3.1 5.4,-1.2 5.8,2.0 6.0,-1.7 6.4,2.6 6.7,-2.6 7.1,1.0 7.4,-2.2 7.8,3.0 8.1,-1.8 8.5,1.4 8.7,-2.8 9.1,1.0 9.4,-1.0 9.8,2.7 10.1,-2.6 10.5,0.8 10.8,-2.2 11.2,1.4 11.5,-1.0 11.9,3.1 12.2,-2.4 12.6,2.0 12.9,-1.8 13.3,2.3 13.6,-1.8 14.0,1.3 14.3,-2.5 14.7,2.3 15.0,-1.3 15.4,3.1 15.7,-0.5 16.1,-3.0 16.4,1.0 16.7,-2.4 17.0,0.8 17.3,-2.3 17.6,1.7 17.9,-2.0"/>
</g></svg>
<use href="#fr"/>
<text class="t" x="145.65" y="-6">Ant 9 Y  max|Δφ|=1.541</text>
<text class="lab" transform="translate(-33,71.55) rotate(-90)">Phase [rad]</text>
<g class="y"><text x="-6" y="6.9">3</text><text x="-6" y="29.5">2</text><text x="-6" y="52.2">1</text><text x="-6" y="74.9">0</text><text x="-6" y="97.5">−1</text><text x="-6" y="120.2">−2</text><text x="-6" y="142.8">−3</text></g>
</g>

<g transform="translate(384.6,1017.7)">
<use href="#ax"/>
<svg width="291.3" height="143.1" viewBox="0.364 -3.157 18.27 6.314" preserveAspectRatio="none"><g transform="scale(1,-1)">
<polyline class="d b" points="3.7,2.5 4.1,0.8 4.4,-0.6 4.8,-1.6 5.0,-3.0 5.2,2.1 5.6,1.5 6.0,0.0 6.4,-0.6 6.8,-0.8 7.2,-1.8 7.5,-2.9 7.8,2.9 8.2,2.9 8.6,2.0 9.0,1.8 9.4,1.0 9.8,-0.3 10.1,-0.4 10.4,-1.0"/>
<polyline class="d o" points="1.0,1.3 1.3,2.4"/>
<polyline class="d o" points="2.5,-2.5 2.9,-1.5 3.2,-0.4 3.4,-2.3 3.7,2.6 4.1,1.2 4.4,-0.5 4.8,-1.5 5.2,2.7 5.6,1.8 6.0,0.0 6.4,-0.9 6.8,-1.0 7.2,-1.8 7.5,-2.8 7.8,2.8 8.2,2.4 8.6,2.2 9.0,1.2 9.4,0.8 9.8,-0.7 10.1,0.6 10.4,-1.6"/>
<polyline class="d g" points="3.2,0.1 3.4,-2.1 3.7,2.6 4.4,0.0 5.0,-2.0 5.1,3.1 6.2,0.0 7.2,-2.3 7.5,-3.0 7.7,2.6 9.0,0.9 10.4,-1.6 11.3,-2.9 11.6,3.1 13.0,1.0 14.5,-1.3 15.5,-2.8 15.8,3.1 17.0,0.8 17.7,-0.8"/>
</g></svg>
<use href="#fr"/>
<text class="t" x="145.65" y="-6">Ant 10 Y  max|Δφ|=1.155</text>
<g class="y"><text x="-6" y="6.9">3</text><text x="-6" y="29.5">2</text><text x="-6" y="52.2">1</text><text x="-6" y="74.9">0</text><text x="-6" y="97.5">−1</text><text x="-6" y="120.2">−2</text><text x="-6" y="142.8">−3</text></g>
</g>

<g transform="translate(714.6,1017.7)">
<use href="#ax"/>
<svg width="291.3" height="143.1" viewBox="0.364 -3.157 18.27 6.314" preserveAspectRatio="none"><g transform="scale(1,-1)">
<polyline class="d b" points="3.1,1.5 3.5,-0.2 3.9,-2.1 4.1,-3.1 4.3,2.2 4.7,0.7 5.1,-0.5 5.5,-1.0 5.9,-1.6 6.3,-1.7 6.7,-2.1 7.1,-2.2 7.4,-2.6 7.7,-2.6 8.0,-2.6 8.3,-2.9 8.6,-2.8 8.8,3.0 9.1,-2.2 9.3,2.9"/>
<polyline class="d o" points="1.0,1.4 1.3,2.6"/>
<polyline class="d o" points="2.5,-1.3 2.8,-0.8 3.1,1.3 3.5,-0.3 3.9,-2.0 4.3,2.0 4.7,1.1 5.1,-0.2 5.5,-0.6 5.9,-1.3 6.3,-1.5 6.7,-2.1 7.1,-2.5 7.4,-3.1 7.7,2.8 8.0,3.0 8.3,-2.5 8.6,-2.8 9.0,2.9 9.4,-2.5 9.8,-2.7"/>
<polyline class="d g" points="3.1,1.2 3.9,-1.6 4.2,-2.9 4.3,2.4 5.0,-0.5 6.0,-1.9 7.0,-2.8 7.5,-3.1 7.8,2.7 8.2,2.9 9.0,2.5 10.0,2.4 11.0,2.35 12.0,2.3 13.0,2.2 14.0,2.0 15.0,1.6 16.0,1.0 17.0,0.3 17.9,-0.3"/>
</g></svg>
<use href="#fr"/>
<text class="t" x="145.65" y="-6">Ant 11 Y  max|Δφ|=0.961</text>
<g class="y"><text x="-6" y="6.9">3</text><text x="-6" y="29.5">2</text><text x="-6" y="52.2">1</text><text x="-6" y="74.9">0</text><text x="-6" y="97.5">−1</text><text x="-6" y="120.2">−2</text><text x="-6" y="142.8">−3</text></g>
</g>

<g transform="translate(1043.8,1017.7)">
<use href="#ax"/>
<svg width="291.3" height="143.1" viewBox="0.364 -3.157 18.27 6.314" preserveAspectRatio="none"><g transform="scale(1,-1)">
<polyline class="d b" points="3.1,1.4 3.4,2.3 3.7,-0.4 4.0,-2.4 4.3,1.1 4.6,2.5 4.9,-2.2 5.3,0.7 5.6,2.9 5.9,-2.0 6.2,2.0 6.5,-2.5 6.8,-0.5 7.1,2.0 7.4,-2.0 7.7,2.6 8.0,-2.3 8.3,1.1 8.6,2.0 8.9,-2.5 9.2,1.4 9.5,2.4 9.8,-1.7 10.1,2.0 10.4,-2.5 10.7,0.0 11.0,1.9 11.3,-1.7 11.6,1.0 11.9,2.3 12.2,-3.1 12.5,-1.0 12.8,1.8 13.1,2.3 13.4,-2.1"/>
<polyline class="d o" points="1.2,-1.3 1.4,2.4"/>
<polyline class="d o" points="2.5,0.4 2.8,2.5 3.1,1.8 3.4,-0.1 3.7,-2.7 4.0,-2.6 4.3,1.0 4.6,2.3 4.9,-2.6 5.3,-0.4 5.6,2.7 5.9,-0.4 6.2,1.6 6.5,-3.0 6.8,-1.6 7.1,0.4 7.4,-2.3 7.7,2.2 8.0,-2.0 8.3,0.5 8.6,1.9 8.9,-1.2 9.2,1.0 9.5,2.8 9.8,-1.4 10.1,2.2 10.4,-1.9 10.7,-0.7 11.0,1.6 11.3,-2.4 11.6,0.8 11.9,2.7 12.2,-2.8 12.5,-1.6 12.8,1.0 13.1,2.6 13.4,-2.0"/>
<polyline class="d g" points="3.1,1.3 3.5,2.9 3.8,-2.5 4.6,2.1 4.9,-2.8 5.5,3.1 5.8,-2.5 6.5,2.5 6.8,-2.1 7.5,2.1 7.8,-2.5 8.6,2.4 8.9,-2.6 9.6,1.9 9.9,-2.1 10.6,2.5 10.9,-2.4 11.7,2.5 12.0,-3.1 12.7,2.0 13.0,-2.1 13.8,2.1 14.1,-2.3 14.9,2.1 15.2,-2.0 15.9,2.1 16.2,-2.0 16.9,2.0 17.2,-2.2 17.9,1.8"/>
</g></svg>
<use href="#fr"/>
<text class="t" x="145.65" y="-6">Ant 12 Y  max|Δφ|=1.545</text>
<g class="y"><text x="-6" y="6.9">3</text><text x="-6" y="29.5">2</text><text x="-6" y="52.2">1</text><text x="-6" y="74.9">0</text><text x="-6" y="97.5">−1</text><text x="-6" y="120.2">−2</text><text x="-6" y="142.8">−3</text></g>
</g>

<!-- ROW 6 -->
<g transform="translate(54.6,1196.1)">
<use href="#ax"/>
<svg width="291.3" height="143.1" viewBox="0.364 -3.157 18.27 6.314" preserveAspectRatio="none"><g transform="scale(1,-1)">
<polyline class="d g" points="13.2,-1.17 13.7,-1.13"/>
</g></svg>
<use href="#fr"/>
<text class="t" x="145.65" y="-6">Ant 13 X  max|Δφ|=nan</text>
<text class="lab" transform="translate(-33,71.55) rotate(-90)">Phase [rad]</text>
<g class="y"><text x="-6" y="6.9">3</text><text x="-6" y="29.5">2</text><text x="-6" y="52.2">1</text><text x="-6" y="74.9">0</text><text x="-6" y="97.5">−1</text><text x="-6" y="120.2">−2</text><text x="-6" y="142.8">−3</text></g>
</g>
<g transform="translate(384.6,1196.1)">
<use href="#ax"/><use href="#fr"/>
<text class="t" x="145.65" y="-6">Ant 14 X  max|Δφ|=nan</text>
<g class="y"><text x="-6" y="6.9">3</text><text x="-6" y="29.5">2</text><text x="-6" y="52.2">1</text><text x="-6" y="74.9">0</text><text x="-6" y="97.5">−1</text><text x="-6" y="120.2">−2</text><text x="-6" y="142.8">−3</text></g>
</g>
<g transform="translate(714.6,1196.1)">
<use href="#ax"/>
<svg width="291.3" height="143.1" viewBox="0.364 -3.157 18.27 6.314" preserveAspectRatio="none"><g transform="scale(1,-1)">
<polyline class="d g" points="16.9,2.1 17.2,3.0"/>
</g></svg>
<use href="#fr"/>
<text class="t" x="145.65" y="-6">Ant 15 X  max|Δφ|=nan</text>
<g class="y"><text x="-6" y="6.9">3</text><text x="-6" y="29.5">2</text><text x="-6" y="52.2">1</text><text x="-6" y="74.9">0</text><text x="-6" y="97.5">−1</text><text x="-6" y="120.2">−2</text><text x="-6" y="142.8">−3</text></g>
</g>
<g transform="translate(1043.8,1196.1)">
<use href="#ax"/><use href="#fr"/>
<text class="t" x="145.65" y="-6">Ant 16 X  max|Δφ|=nan</text>
<g class="y"><text x="-6" y="6.9">3</text><text x="-6" y="29.5">2</text><text x="-6" y="52.2">1</text><text x="-6" y="74.9">0</text><text x="-6" y="97.5">−1</text><text x="-6" y="120.2">−2</text><text x="-6" y="142.8">−3</text></g>
</g>

<!-- ROW 7 -->
<g transform="translate(54.6,1374.5)">
<use href="#ax"/><use href="#fr"/>
<text class="t" x="145.65" y="-6">Ant 13 Y  max|Δφ|=nan</text>
<text class="lab" transform="translate(-33,71.55) rotate(-90)">Phase [rad]</text>
<g class="y"><text x="-6" y="6.9">3</text><text x="-6" y="29.5">2</text><text x="-6" y="52.2">1</text><text x="-6" y="74.9">0</text><text x="-6" y="97.5">−1</text><text x="-6" y="120.2">−2</text><text x="-6" y="142.8">−3</text></g>
<g class="x"><text x="34.05" y="158.6">2.5</text><text x="73.9" y="158.6">5.0</text><text x="113.75" y="158.6">7.5</text><text x="153.6" y="158.6">10.0</text><text x="193.45" y="158.6">12.5</text><text x="233.3" y="158.6">15.0</text><text x="273.15" y="158.6">17.5</text></g>
<text class="lab" x="145.65" y="178">Freq [GHz]</text>
</g>
<g transform="translate(384.6,1374.5)">
<use href="#ax"/><use href="#fr"/>
<text class="t" x="145.65" y="-6">Ant 14 Y  max|Δφ|=nan</text>
<g class="y"><text x="-6" y="6.9">3</text><text x="-6" y="29.5">2</text><text x="-6" y="52.2">1</text><text x="-6" y="74.9">0</text><text x="-6" y="97.5">−1</text><text x="-6" y="120.2">−2</text><text x="-6" y="142.8">−3</text></g>
<g class="x"><text x="34.05" y="158.6">2.5</text><text x="73.9" y="158.6">5.0</text><text x="113.75" y="158.6">7.5</text><text x="153.6" y="158.6">10.0</text><text x="193.45" y="158.6">12.5</text><text x="233.3" y="158.6">15.0</text><text x="273.15" y="158.6">17.5</text></g>
<text class="lab" x="145.65" y="178">Freq [GHz]</text>
</g>
<g transform="translate(714.6,1374.5)">
<use href="#ax"/><use href="#fr"/>
<text class="t" x="145.65" y="-6">Ant 15 Y  max|Δφ|=nan</text>
<g class="y"><text x="-6" y="6.9">3</text><text x="-6" y="29.5">2</text><text x="-6" y="52.2">1</text><text x="-6" y="74.9">0</text><text x="-6" y="97.5">−1</text><text x="-6" y="120.2">−2</text><text x="-6" y="142.8">−3</text></g>
<g class="x"><text x="34.05" y="158.6">2.5</text><text x="73.9" y="158.6">5.0</text><text x="113.75" y="158.6">7.5</text><text x="153.6" y="158.6">10.0</text><text x="193.45" y="158.6">12.5</text><text x="233.3" y="158.6">15.0</text><text x="273.15" y="158.6">17.5</text></g>
<text class="lab" x="145.65" y="178">Freq [GHz]</text>
</g>
<g transform="translate(1043.8,1374.5)">
<use href="#ax"/><use href="#fr"/>
<text class="t" x="145.65" y="-6">Ant 16 Y  max|Δφ|=nan</text>
<g class="y"><text x="-6" y="6.9">3</text><text x="-6" y="29.5">2</text><text x="-6" y="52.2">1</text><text x="-6" y="74.9">0</text><text x="-6" y="97.5">−1</text><text x="-6" y="120.2">−2</text><text x="-6" y="142.8">−3</text></g>
<g class="x"><text x="34.05" y="158.6">2.5</text><text x="73.9" y="158.6">5.0</text><text x="113.75" y="158.6">7.5</text><text x="153.6" y="158.6">10.0</text><text x="193.45" y="158.6">12.5</text><text x="233.3" y="158.6">15.0</text><text x="273.15" y="158.6">17.5</text></g>
<text class="lab" x="145.65" y="178">Freq [GHz]</text>
</g>
</svg>
</body></html>
